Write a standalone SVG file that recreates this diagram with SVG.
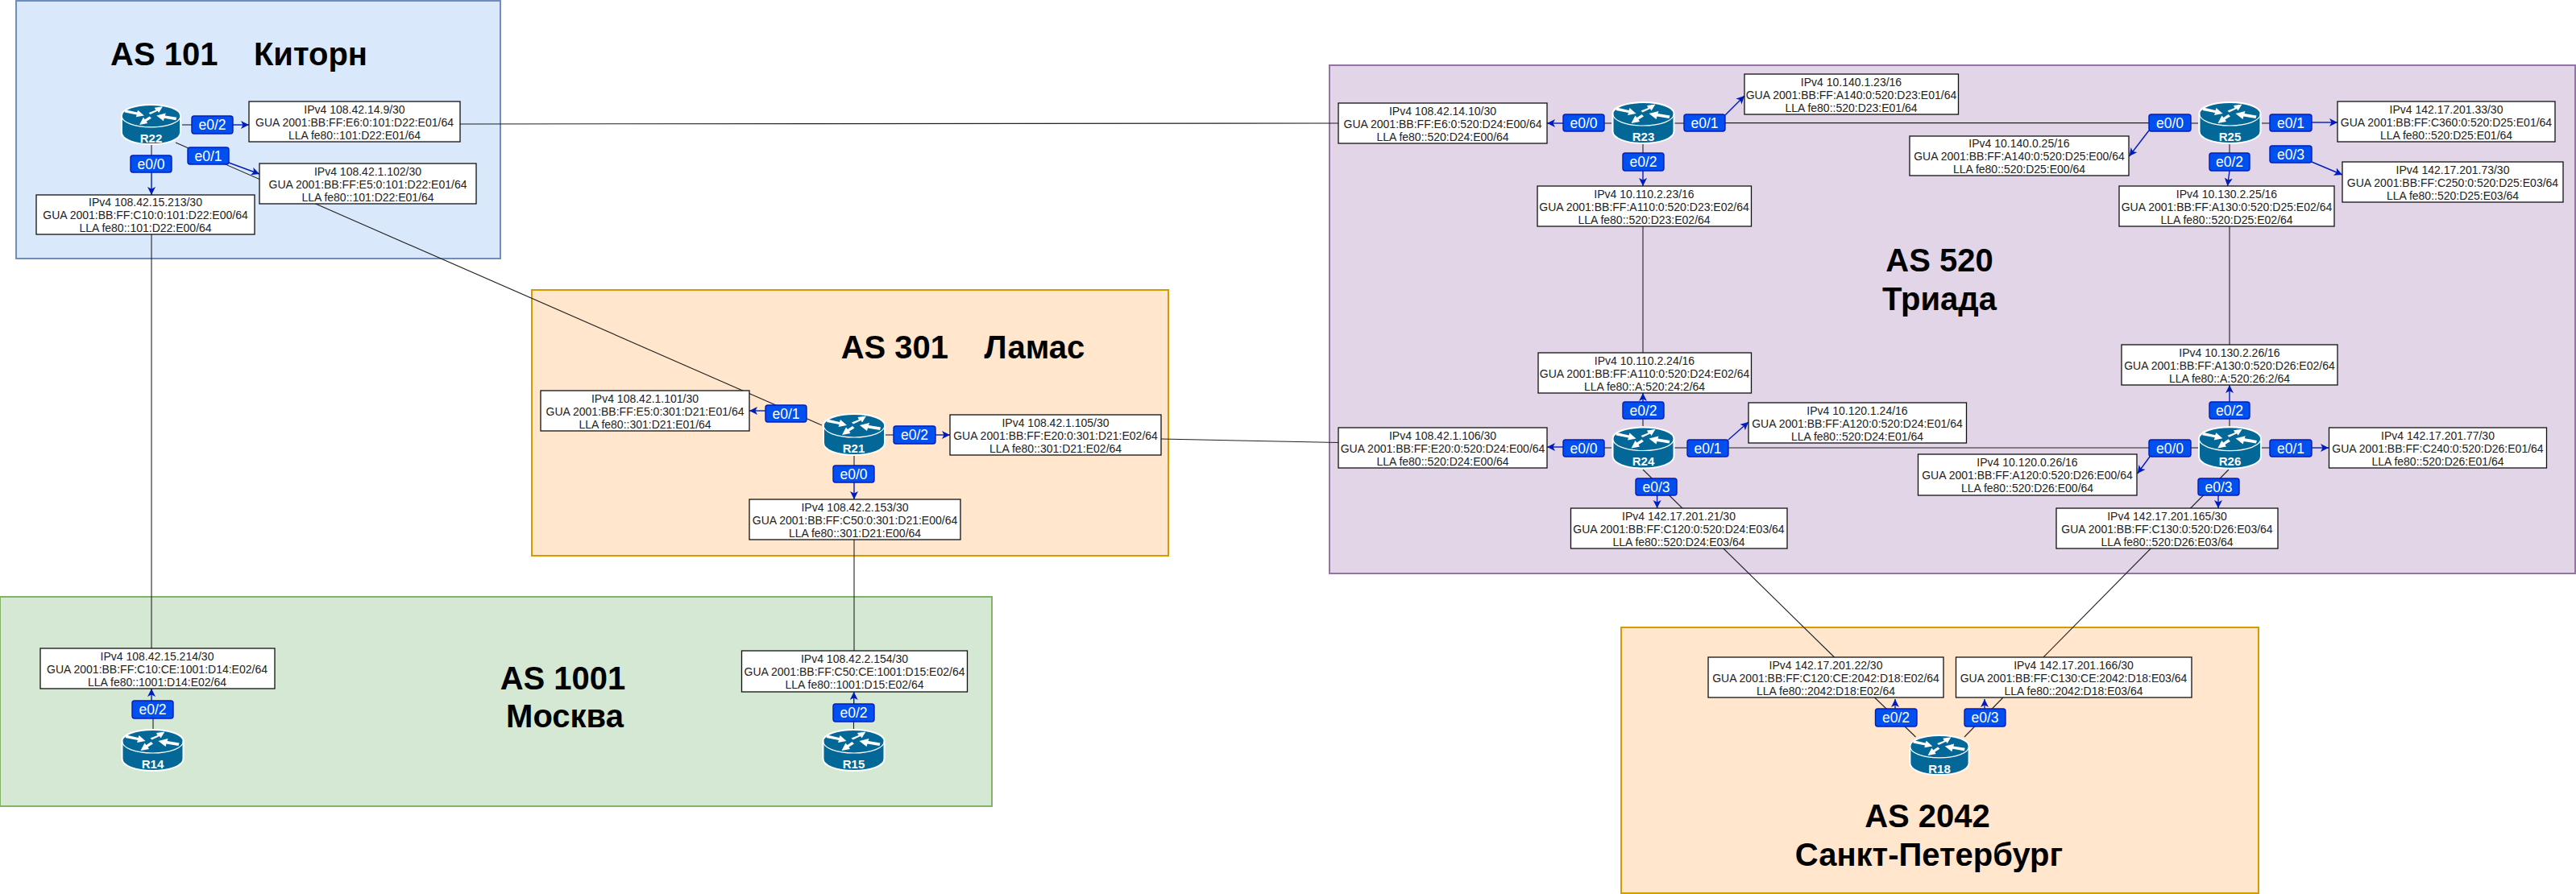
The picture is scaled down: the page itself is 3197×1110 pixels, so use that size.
<svg xmlns="http://www.w3.org/2000/svg" width="3197" height="1110" viewBox="0 0 3197 1110">
<style>
.as{stroke-width:2}
.t{font-family:"Liberation Sans",Arial,sans-serif;font-weight:700;font-size:40px;text-anchor:middle;fill:#000}
.b rect{fill:#fff;stroke:#111;stroke-width:1.3}
.b text{font-family:"Liberation Sans",Arial,sans-serif;font-size:14px;text-anchor:middle;fill:#222}
.l rect{fill:#0050ef;stroke:#001dbc;stroke-width:1.4}
.l text{font-family:"Liberation Sans",Arial,sans-serif;font-size:17.500px;text-anchor:middle;fill:#fff}
.r text{font-family:"Liberation Sans",Arial,sans-serif;font-weight:700;font-size:15px;text-anchor:middle;fill:#fff}
.k line{stroke:#222;stroke-width:1.1;fill:none}
.a line{stroke:#001dbc;stroke-width:1.4;fill:none;marker-end:url(#ah)}
</style>
<defs>
<marker id="ah" markerUnits="userSpaceOnUse" markerWidth="12" markerHeight="12" refX="10" refY="5" orient="auto">
<path d="M0,0 L10,5 L0,10 L2.500,5 Z" fill="#001dbc"/>
</marker>
<symbol id="router" viewBox="0 0 78 53" overflow="visible">
<path d="M1,15 C1,7 18,1 39,1 C60,1 77,7 77,15 V37 C77,46 60,52 39,52 C18,52 1,46 1,37 Z" fill="#036897" stroke="#fff" stroke-width="2"/>
<path d="M1,15 C1,24 18,30 39,30 C60,30 77,24 77,15" fill="none" stroke="#fff" stroke-width="1.200"/>
<g fill="#fff">
<path d="M6,7.500 L21,11 L22,8 L30,15 L19.500,17 L20.500,14 L5,11 Z"/>
<path d="M36,11.500 L45,8 L43.500,5 L54,3.500 L49,11.500 L47.500,9 L38,13.500 Z"/>
<path d="M72,17.500 L57,15 L58,12 L46,15 L55,22 L56,18.500 L71,21 Z"/>
<path d="M37,16 L31,20 L29,17.500 L24,27 L34.500,25 L33,22.500 L39.500,18.500 Z"/>
</g>
</symbol>
</defs>
<rect width="3197" height="1110" fill="#fff"/>
<g id="areas">
<rect class="as" x="20" y="1" width="601" height="320" fill="#dae8fc" stroke="#6c8ebf"/>
<rect class="as" x="660" y="360" width="790" height="330" fill="#ffe6cc" stroke="#d79b00"/>
<rect class="as" x="0" y="741" width="1231" height="260" fill="#d5e8d4" stroke="#82b366"/>
<rect class="as" x="1650" y="81" width="1546" height="631" fill="#e1d5e7" stroke="#9673a6"/>
<rect class="as" x="2012" y="779" width="791" height="330" fill="#ffe6cc" stroke="#d79b00"/>
</g>
<g id="titles">
<text class="t" x="296.500" y="81">AS 101&#160;&#160;&#160;&#160;Киторн</text>
<text class="t" x="1195" y="445">AS 301&#160;&#160;&#160;&#160;Ламас</text>
<text class="t" x="698.500" y="856">AS 1001</text>
<text class="t" x="701" y="903">Москва</text>
<text class="t" x="2407" y="337">AS 520</text>
<text class="t" x="2407" y="385">Триада</text>
<text class="t" x="2392" y="1027">AS 2042</text>
<text class="t" x="2394" y="1075">Санкт-Петербург</text>
</g>
<g id="connectors">
<g class="k">
<line x1="571" y1="154" x2="1661" y2="153"/>
<line x1="1441" y1="545" x2="1661" y2="549.500"/>
<line x1="218" y1="177" x2="1020" y2="528"/>
<line x1="188" y1="180" x2="188" y2="193"/>
<line x1="188" y1="291" x2="188" y2="805"/>
<line x1="226" y1="155" x2="238" y2="155"/>
<line x1="1060" y1="566" x2="1060" y2="578"/>
<line x1="1060" y1="670" x2="1060" y2="808"/>
<line x1="1099" y1="540" x2="1109" y2="540"/>
<line x1="190" y1="892" x2="190" y2="905"/>
<line x1="1059.500" y1="896" x2="1059.500" y2="905"/>
<line x1="1991" y1="153" x2="2000" y2="153"/>
<line x1="2078" y1="153" x2="2090" y2="153"/>
<line x1="2141" y1="152.600" x2="2667" y2="152.600"/>
<line x1="2719" y1="153" x2="2728" y2="153"/>
<line x1="2807" y1="153" x2="2817" y2="153"/>
<line x1="2039" y1="179" x2="2039" y2="190"/>
<line x1="2039" y1="281" x2="2039" y2="438"/>
<line x1="2767" y1="179" x2="2767" y2="190"/>
<line x1="2767" y1="281" x2="2767" y2="428"/>
<line x1="2039" y1="520" x2="2039" y2="529"/>
<line x1="2767" y1="520" x2="2767" y2="529"/>
<line x1="1991" y1="556" x2="2000" y2="556"/>
<line x1="2078" y1="556" x2="2094" y2="556"/>
<line x1="2145" y1="556" x2="2667" y2="556"/>
<line x1="2719" y1="556" x2="2728" y2="556"/>
<line x1="2807" y1="556" x2="2817" y2="556"/>
<line x1="2039" y1="583" x2="2276.500" y2="816"/>
<line x1="2766" y1="583" x2="2536" y2="816"/>
<line x1="2326.500" y1="866" x2="2377.500" y2="915"/>
<line x1="2486" y1="866" x2="2438" y2="915"/>
</g>
<g class="a">
<line x1="289" y1="155" x2="309" y2="155"/>
<line x1="284" y1="202" x2="322" y2="216"/>
<line x1="188" y1="214" x2="188" y2="242"/>
<line x1="950" y1="510" x2="930" y2="510"/>
<line x1="1161" y1="540" x2="1179" y2="540"/>
<line x1="1060" y1="599" x2="1060" y2="620"/>
<line x1="188" y1="870" x2="188" y2="855"/>
<line x1="1059.700" y1="874" x2="1059.700" y2="859"/>
<line x1="1940" y1="153" x2="1920" y2="153"/>
<line x1="2141" y1="143" x2="2165" y2="119"/>
<line x1="2039" y1="212" x2="2039" y2="231"/>
<line x1="2667" y1="162" x2="2642.500" y2="194"/>
<line x1="2869" y1="152" x2="2901" y2="152"/>
<line x1="2869" y1="201" x2="2907" y2="217"/>
<line x1="2767" y1="212" x2="2764.500" y2="231"/>
<line x1="2039" y1="499" x2="2039" y2="488"/>
<line x1="1940" y1="555" x2="1920" y2="555"/>
<line x1="2145" y1="546" x2="2170" y2="524"/>
<line x1="2056.600" y1="615" x2="2056.600" y2="631"/>
<line x1="2767" y1="499" x2="2767" y2="478"/>
<line x1="2668" y1="567" x2="2652.700" y2="588"/>
<line x1="2869" y1="556" x2="2890" y2="556"/>
<line x1="2753" y1="615" x2="2753" y2="631"/>
<line x1="2352" y1="880" x2="2352" y2="868"/>
<line x1="2463" y1="880" x2="2463" y2="868"/>
</g>
</g>
<g id="addresses">
<g id="addr-r22-e02" class="b"><rect x="309" y="126" width="262" height="50"/><text x="440" y="141">IPv4 108.42.14.9/30</text><text x="440" y="157">GUA 2001:BB:FF:E6:0:101:D22:E01/64</text><text x="440" y="173">LLA fe80::101:D22:E01/64</text></g>
<g id="addr-r22-e01" class="b"><rect x="322" y="203" width="269" height="50"/><text x="456.500" y="218">IPv4 108.42.1.102/30</text><text x="456.500" y="234">GUA 2001:BB:FF:E5:0:101:D22:E01/64</text><text x="456.500" y="250">LLA fe80::101:D22:E01/64</text></g>
<g id="addr-r22-e00" class="b"><rect x="45" y="242" width="271" height="49"/><text x="180.500" y="256">IPv4 108.42.15.213/30</text><text x="180.500" y="272">GUA 2001:BB:FF:C10:0:101:D22:E00/64</text><text x="180.500" y="288">LLA fe80::101:D22:E00/64</text></g>
<g id="addr-r21-e01" class="b"><rect x="671" y="485" width="259" height="50"/><text x="800.500" y="500">IPv4 108.42.1.101/30</text><text x="800.500" y="516">GUA 2001:BB:FF:E5:0:301:D21:E01/64</text><text x="800.500" y="532">LLA fe80::301:D21:E01/64</text></g>
<g id="addr-r21-e02" class="b"><rect x="1179" y="515" width="262" height="50"/><text x="1310" y="530">IPv4 108.42.1.105/30</text><text x="1310" y="546">GUA 2001:BB:FF:E20:0:301:D21:E02/64</text><text x="1310" y="562">LLA fe80::301:D21:E02/64</text></g>
<g id="addr-r21-e00" class="b"><rect x="930" y="620" width="262" height="50"/><text x="1061" y="635">IPv4 108.42.2.153/30</text><text x="1061" y="651">GUA 2001:BB:FF:C50:0:301:D21:E00/64</text><text x="1061" y="667">LLA fe80::301:D21:E00/64</text></g>
<g id="addr-r14-e02" class="b"><rect x="50" y="805" width="291" height="50"/><text x="195" y="820">IPv4 108.42.15.214/30</text><text x="195" y="836">GUA 2001:BB:FF:C10:CE:1001:D14:E02/64</text><text x="195" y="852">LLA fe80::1001:D14:E02/64</text></g>
<g id="addr-r15-e02" class="b"><rect x="920.500" y="808" width="280" height="51"/><text x="1060.500" y="823">IPv4 108.42.2.154/30</text><text x="1060.500" y="839">GUA 2001:BB:FF:C50:CE:1001:D15:E02/64</text><text x="1060.500" y="855">LLA fe80::1001:D15:E02/64</text></g>
<g id="addr-r23-e00" class="b"><rect x="1661" y="128" width="259" height="50"/><text x="1790.500" y="143">IPv4 108.42.14.10/30</text><text x="1790.500" y="159">GUA 2001:BB:FF:E6:0:520:D24:E00/64</text><text x="1790.500" y="175">LLA fe80::520:D24:E00/64</text></g>
<g id="addr-r23-e01" class="b"><rect x="2165" y="92" width="265.500" height="50"/><text x="2297.500" y="107">IPv4 10.140.1.23/16</text><text x="2297.500" y="123">GUA 2001:BB:FF:A140:0:520:D23:E01/64</text><text x="2297.500" y="139">LLA fe80::520:D23:E01/64</text></g>
<g id="addr-r23-e02" class="b"><rect x="1908" y="231" width="265.500" height="50"/><text x="2040.500" y="246">IPv4 10.110.2.23/16</text><text x="2040.500" y="262">GUA 2001:BB:FF:A110:0:520:D23:E02/64</text><text x="2040.500" y="278">LLA fe80::520:D23:E02/64</text></g>
<g id="addr-r25-e00" class="b"><rect x="2370" y="169" width="272" height="49"/><text x="2506" y="183">IPv4 10.140.0.25/16</text><text x="2506" y="199">GUA 2001:BB:FF:A140:0:520:D25:E00/64</text><text x="2506" y="215">LLA fe80::520:D25:E00/64</text></g>
<g id="addr-r25-e01" class="b"><rect x="2901" y="126" width="270" height="50"/><text x="3036" y="141">IPv4 142.17.201.33/30</text><text x="3036" y="157">GUA 2001:BB:FF:C360:0:520:D25:E01/64</text><text x="3036" y="173">LLA fe80::520:D25:E01/64</text></g>
<g id="addr-r25-e03" class="b"><rect x="2907" y="201" width="274" height="50"/><text x="3044" y="216">IPv4 142.17.201.73/30</text><text x="3044" y="232">GUA 2001:BB:FF:C250:0:520:D25:E03/64</text><text x="3044" y="248">LLA fe80::520:D25:E03/64</text></g>
<g id="addr-r25-e02" class="b"><rect x="2630" y="231" width="267" height="50"/><text x="2763.500" y="246">IPv4 10.130.2.25/16</text><text x="2763.500" y="262">GUA 2001:BB:FF:A130:0:520:D25:E02/64</text><text x="2763.500" y="278">LLA fe80::520:D25:E02/64</text></g>
<g id="addr-r24-e02" class="b"><rect x="1909" y="438" width="264.500" height="50"/><text x="2041" y="453">IPv4 10.110.2.24/16</text><text x="2041" y="469">GUA 2001:BB:FF:A110:0:520:D24:E02/64</text><text x="2041" y="485">LLA fe80::A:520:24:2/64</text></g>
<g id="addr-r24-e00" class="b"><rect x="1661" y="531" width="259" height="50"/><text x="1790.500" y="546">IPv4 108.42.1.106/30</text><text x="1790.500" y="562">GUA 2001:BB:FF:E20:0:520:D24:E00/64</text><text x="1790.500" y="578">LLA fe80::520:D24:E00/64</text></g>
<g id="addr-r24-e01" class="b"><rect x="2170" y="500" width="270.500" height="50"/><text x="2305" y="515">IPv4 10.120.1.24/16</text><text x="2305" y="531">GUA 2001:BB:FF:A120:0:520:D24:E01/64</text><text x="2305" y="547">LLA fe80::520:D24:E01/64</text></g>
<g id="addr-r24-e03" class="b"><rect x="1949.500" y="631" width="268.500" height="50"/><text x="2083.500" y="646">IPv4 142.17.201.21/30</text><text x="2083.500" y="662">GUA 2001:BB:FF:C120:0:520:D24:E03/64</text><text x="2083.500" y="678">LLA fe80::520:D24:E03/64</text></g>
<g id="addr-r26-e02" class="b"><rect x="2633" y="428" width="268" height="50"/><text x="2767" y="443">IPv4 10.130.2.26/16</text><text x="2767" y="459">GUA 2001:BB:FF:A130:0:520:D26:E02/64</text><text x="2767" y="475">LLA fe80::A:520:26:2/64</text></g>
<g id="addr-r26-e01" class="b"><rect x="2890.500" y="531" width="270" height="50"/><text x="3025.500" y="546">IPv4 142.17.201.77/30</text><text x="3025.500" y="562">GUA 2001:BB:FF:C240:0:520:D26:E01/64</text><text x="3025.500" y="578">LLA fe80::520:D26:E01/64</text></g>
<g id="addr-r26-e00" class="b"><rect x="2380.500" y="564" width="271.500" height="51"/><text x="2516" y="579">IPv4 10.120.0.26/16</text><text x="2516" y="595">GUA 2001:BB:FF:A120:0:520:D26:E00/64</text><text x="2516" y="611">LLA fe80::520:D26:E00/64</text></g>
<g id="addr-r26-e03" class="b"><rect x="2552" y="631" width="275" height="50"/><text x="2689.500" y="646">IPv4 142.17.201.165/30</text><text x="2689.500" y="662">GUA 2001:BB:FF:C130:0:520:D26:E03/64</text><text x="2689.500" y="678">LLA fe80::520:D26:E03/64</text></g>
<g id="addr-r18-e02" class="b"><rect x="2120" y="816" width="292" height="50"/><text x="2266" y="831">IPv4 142.17.201.22/30</text><text x="2266" y="847">GUA 2001:BB:FF:C120:CE:2042:D18:E02/64</text><text x="2266" y="863">LLA fe80::2042:D18:E02/64</text></g>
<g id="addr-r18-e03" class="b"><rect x="2427.500" y="816" width="292.500" height="50"/><text x="2573.500" y="831">IPv4 142.17.201.166/30</text><text x="2573.500" y="847">GUA 2001:BB:FF:C130:CE:2042:D18:E03/64</text><text x="2573.500" y="863">LLA fe80::2042:D18:E03/64</text></g>
</g>
<g id="ports">
<g class="l"><rect x="238" y="144" width="51" height="22" rx="3"/><text x="263.500" y="161">e0/2</text></g>
<g class="l"><rect x="233" y="183" width="51" height="21" rx="3"/><text x="258.500" y="199.500">e0/1</text></g>
<g class="l"><rect x="162" y="193" width="51" height="21" rx="3"/><text x="187.500" y="209.500">e0/0</text></g>
<g class="l"><rect x="950" y="503" width="51" height="21" rx="3"/><text x="975.500" y="519.500">e0/1</text></g>
<g class="l"><rect x="1109" y="529" width="52" height="22" rx="3"/><text x="1135" y="546">e0/2</text></g>
<g class="l"><rect x="1034" y="578" width="51" height="21" rx="3"/><text x="1059.500" y="594.500">e0/0</text></g>
<g class="l"><rect x="164" y="870" width="51" height="22" rx="3"/><text x="189.500" y="887">e0/2</text></g>
<g class="l"><rect x="1034" y="874" width="51" height="22" rx="3"/><text x="1059.500" y="891">e0/2</text></g>
<g class="l"><rect x="1940" y="142" width="51" height="21" rx="3"/><text x="1965.500" y="158.500">e0/0</text></g>
<g class="l"><rect x="2090" y="142" width="51" height="21" rx="3"/><text x="2115.500" y="158.500">e0/1</text></g>
<g class="l"><rect x="2014" y="190" width="51" height="22" rx="3"/><text x="2039.500" y="207">e0/2</text></g>
<g class="l"><rect x="2667" y="142" width="52" height="21" rx="3"/><text x="2693" y="158.500">e0/0</text></g>
<g class="l"><rect x="2817" y="142" width="52" height="21" rx="3"/><text x="2843" y="158.500">e0/1</text></g>
<g class="l"><rect x="2817" y="181" width="52" height="21" rx="3"/><text x="2843" y="197.500">e0/3</text></g>
<g class="l"><rect x="2742" y="190" width="50" height="22" rx="3"/><text x="2767" y="207">e0/2</text></g>
<g class="l"><rect x="2014" y="499" width="51" height="21" rx="3"/><text x="2039.500" y="515.500">e0/2</text></g>
<g class="l"><rect x="1940" y="546" width="51" height="21" rx="3"/><text x="1965.500" y="562.500">e0/0</text></g>
<g class="l"><rect x="2094" y="546" width="51" height="21" rx="3"/><text x="2119.500" y="562.500">e0/1</text></g>
<g class="l"><rect x="2030" y="594" width="51" height="21" rx="3"/><text x="2055.500" y="610.500">e0/3</text></g>
<g class="l"><rect x="2742" y="499" width="50" height="21" rx="3"/><text x="2767" y="515.500">e0/2</text></g>
<g class="l"><rect x="2667" y="546" width="52" height="21" rx="3"/><text x="2693" y="562.500">e0/0</text></g>
<g class="l"><rect x="2817" y="546" width="52" height="21" rx="3"/><text x="2843" y="562.500">e0/1</text></g>
<g class="l"><rect x="2728" y="594" width="51" height="21" rx="3"/><text x="2753.500" y="610.500">e0/3</text></g>
<g class="l"><rect x="2327.500" y="880" width="51.500" height="22" rx="3"/><text x="2353" y="897">e0/2</text></g>
<g class="l"><rect x="2438" y="880" width="51" height="22" rx="3"/><text x="2463.500" y="897">e0/3</text></g>
</g>
<g id="routers">
<g id="R22" class="r"><use href="#router" x="149" y="129" width="77" height="51"/><text x="187.500" y="177">R22</text></g>
<g id="R21" class="r"><use href="#router" x="1021" y="513" width="78" height="53"/><text x="1059.500" y="562">R21</text></g>
<g id="R14" class="r"><use href="#router" x="150" y="905" width="79" height="53"/><text x="189.500" y="954">R14</text></g>
<g id="R15" class="r"><use href="#router" x="1020" y="905" width="79" height="53"/><text x="1059.500" y="954">R15</text></g>
<g id="R23" class="r"><use href="#router" x="2000.500" y="126" width="78" height="53"/><text x="2039.500" y="175">R23</text></g>
<g id="R25" class="r"><use href="#router" x="2728" y="126" width="79" height="53"/><text x="2767.500" y="175">R25</text></g>
<g id="R24" class="r"><use href="#router" x="2000.500" y="529" width="78" height="54"/><text x="2039.500" y="578">R24</text></g>
<g id="R26" class="r"><use href="#router" x="2728" y="529" width="79" height="54"/><text x="2767.500" y="578">R26</text></g>
<g id="R18" class="r"><use href="#router" x="2368" y="912" width="78" height="51"/><text x="2407" y="960">R18</text></g>
</g>
</svg>
